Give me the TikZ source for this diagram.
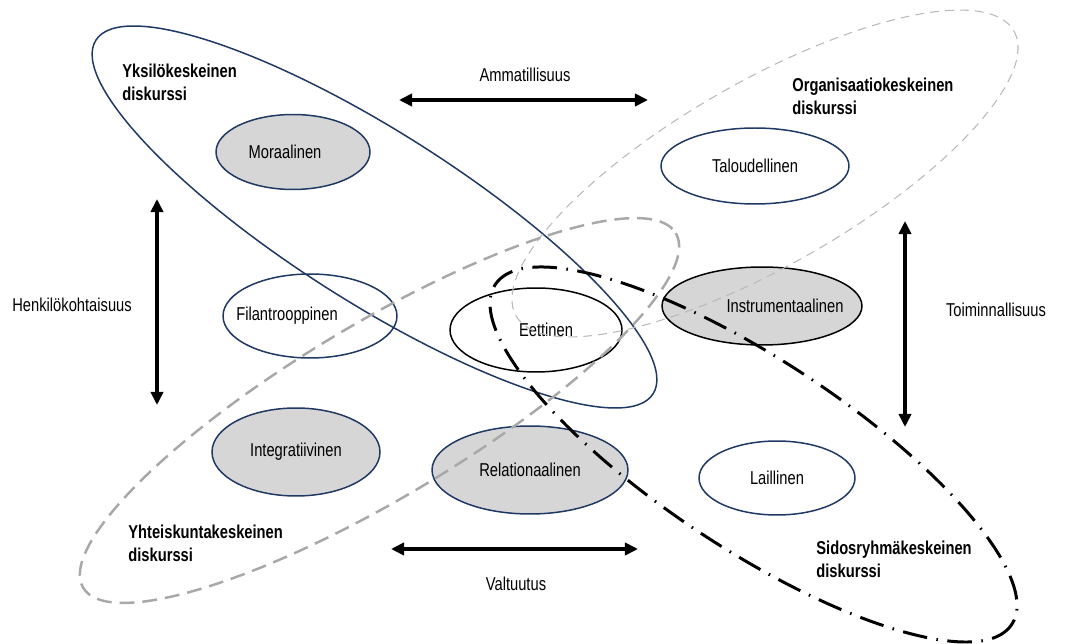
\documentclass[tikz,border=0pt]{standalone}
\usepackage{fontspec}
\setmainfont{Liberation Sans}[FakeStretch=0.79]
\usetikzlibrary{shapes.geometric,arrows.meta}

\definecolor{navy}{RGB}{31,56,100}
\definecolor{fillgrey}{RGB}{214,214,214}
\definecolor{lightdash}{RGB}{185,185,185}
\definecolor{middash}{RGB}{168,168,168}

\begin{document}
\begin{tikzpicture}[x=0.02cm,y=-0.02cm,
    txt/.style={font={\fontsize{10.6}{13}\selectfont}},
    disc/.style={txt,ellipse,draw=navy,fill=white,line width=0.85pt,inner sep=0pt},
    shaded/.style={disc,fill=fillgrey},
    title/.style={anchor=west,align=left,inner sep=0pt,font={\fontsize{10.6}{13}\selectfont\bfseries}},
    axis/.style={line width=2.5pt,{Triangle[length=7.5pt,width=7pt]}-{Triangle[length=7.5pt,width=7pt]}},
    yksilo/.style={draw=navy,line width=0.85pt},
    organ/.style={draw=lightdash,line width=0.6pt,dash pattern=on 5pt off 3.5pt},
    yhteis/.style={draw=middash,line width=1.4pt,dash pattern=on 8.5pt off 4.5pt},
    sidos/.style={draw=black,line width=1.7pt,dash pattern=on 14pt off 5.4pt on 0.9pt off 5.4pt}]
\useasboundingbox (0,0) rectangle (1069,644);

% small discourses
\node[shaded,minimum width=3.08cm,minimum height=1.5cm,
      label={[txt,xshift=-0.16cm]center:Moraalinen}] (moraali) at (293,152) {};
\node[disc,minimum width=3.76cm,minimum height=1.52cm] (talous) at (755,166) {Taloudellinen};
\node[disc,minimum width=3.48cm,minimum height=1.68cm,
      label={[txt,xshift=-0.46cm]center:Filantrooppinen}] (filan) at (310,316) {};
\node[disc,draw=black,minimum width=3.44cm,minimum height=1.68cm,
      label={[txt,xshift=0.2cm]center:Eettinen}] (eetti) at (536,330) {};
\node[shaded,draw=black,minimum width=4cm,minimum height=1.56cm,
      label={[txt,xshift=0.46cm]center:Instrumentaalinen}] (instru) at (762,306) {};
\node[shaded,minimum width=3.36cm,minimum height=1.76cm] (integr) at (296,452) {Integratiivinen};
\node[shaded,minimum width=3.92cm,minimum height=1.76cm] (relat) at (530,470) {Relationaalinen};
\node[disc,minimum width=3.12cm,minimum height=1.48cm] (laki) at (777,478) {Laillinen};

% big discourses
\draw[yksilo,shift={(374.5,217)},rotate=-32.4] (0,0) ellipse [x radius=330,y radius=85.4];
\draw[organ,shift={(765,173.5)},rotate=29.8] (0,0) ellipse [x radius=286.8,y radius=92];
\draw[yhteis,shift={(379.5,410.5)},rotate=30.9] (0,0) ellipse [x radius=345.3,y radius=86.9];
\draw[sidos,shift={(753.5,454.5)},rotate=-33.35] (0,0) ellipse [x radius=309.2,y radius=94.7];

\node[title] (yksT) at (122,82) {Yksilökeskeinen\\diskurssi};
\node[title] (orgT) at (792,96) {Organisaatiokeskeinen\\diskurssi};
\node[title] (yhtT) at (128,543) {Yhteiskuntakeskeinen\\diskurssi};
\node[title] (sidT) at (816,559) {Sidosryhmäkeskeinen\\diskurssi};

% axes
\coordinate (amL) at (399,100);
\coordinate (amR) at (648,100);
\coordinate (heT) at (157,199);
\coordinate (heB) at (157,405);
\coordinate (toT) at (905,221);
\coordinate (toB) at (905,427);
\coordinate (vaL) at (391,549);
\coordinate (vaR) at (638,549);
\draw[axis] (amL) -- (amR);
\draw[axis] (heT) -- (heB);
\draw[axis] (toT) -- (toB);
\draw[axis] (vaL) -- (vaR);

\node[txt] (amm) at (525,75) {Ammatillisuus};
\node[txt,anchor=west,inner sep=0pt] (henk) at (12,305) {Henkilökohtaisuus};
\node[txt] (toim) at (996,310) {Toiminnallisuus};
\node[txt] (valt) at (516,584) {Valtuutus};
\end{tikzpicture}
\end{document}
